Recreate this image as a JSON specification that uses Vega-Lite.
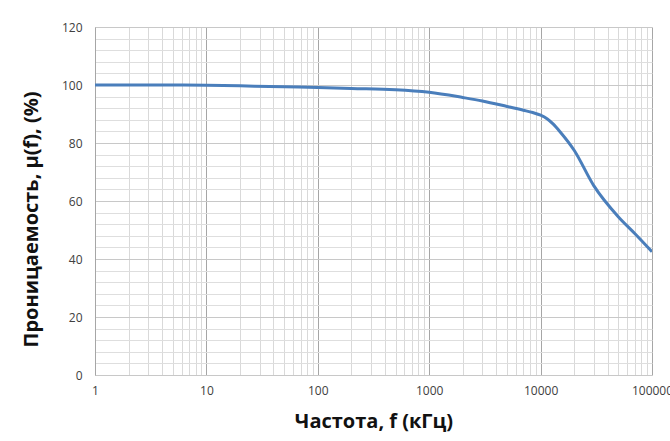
{
  "$schema": "https://vega.github.io/schema/vega-lite/v6.json",
  "width": 557,
  "height": 348,
  "autosize": {"type": "none"},
  "padding": {"left": 95, "top": 27, "right": 18, "bottom": 66},
  "background": "white",
  "config": {
    "view": {"stroke": null},
    "font": "Open Sans",
    "axis": {
      "labelFont": "Open Sans",
      "labelFontSize": 12,
      "labelColor": "#404040",
      "titleFont": "Open Sans",
      "titleFontWeight": "bold",
      "titleFontSize": 20,
      "titleColor": "#111111",
      "ticks": false
    }
  },
  "data": {
    "values": [
      {"f": 1, "mu": 100.0},
      {"f": 2, "mu": 100.0},
      {"f": 5, "mu": 100.0},
      {"f": 10, "mu": 99.9},
      {"f": 20, "mu": 99.7},
      {"f": 50, "mu": 99.4},
      {"f": 100, "mu": 99.1},
      {"f": 200, "mu": 98.8},
      {"f": 500, "mu": 98.4},
      {"f": 1000, "mu": 97.5},
      {"f": 2000, "mu": 95.7},
      {"f": 3000, "mu": 94.5},
      {"f": 5000, "mu": 92.6},
      {"f": 7000, "mu": 91.3},
      {"f": 8500, "mu": 90.5},
      {"f": 10000, "mu": 89.6},
      {"f": 11500, "mu": 88.3},
      {"f": 13000, "mu": 86.5},
      {"f": 15000, "mu": 83.8},
      {"f": 20000, "mu": 77.5},
      {"f": 30000, "mu": 65.3},
      {"f": 50000, "mu": 54.5},
      {"f": 70000, "mu": 48.8},
      {"f": 100000, "mu": 42.5}
    ]
  },
  "mark": {
    "type": "line",
    "interpolate": "monotone",
    "color": "#4a7ebb",
    "strokeWidth": 3,
    "clip": true
  },
  "encoding": {
    "x": {
      "field": "f",
      "type": "quantitative",
      "scale": {"type": "log", "domain": [1, 100000], "nice": false},
      "axis": {
        "title": "Частота, f (кГц)",
        "titlePadding": 15,
        "labelPadding": 10,
        "format": "d",
        "values": [1, 2, 3, 4, 5, 6, 7, 8, 9, 10, 20, 30, 40, 50, 60, 70, 80, 90, 100, 200, 300, 400, 500, 600, 700, 800, 900, 1000, 2000, 3000, 4000, 5000, 6000, 7000, 8000, 9000, 10000, 20000, 30000, 40000, 50000, 60000, 70000, 80000, 90000, 100000],
        "labelExpr": "abs(log(datum.value) / LN10 - round(log(datum.value) / LN10)) < 0.000001 ? datum.label : ''",
        "labelOverlap": false,
        "labelFlush": false,
        "gridColor": {
          "condition": {"test": "abs(log(datum.value) / LN10 - round(log(datum.value) / LN10)) < 0.000001", "value": "#a6a6a6"},
          "value": "#d9d9d9"
        },
        "gridWidth": 1,
        "domain": false
      }
    },
    "y": {
      "field": "mu",
      "type": "quantitative",
      "scale": {"domain": [0, 120], "nice": false, "zero": true},
      "axis": {
        "title": "Проницаемость, µ(f), (%)",
        "titlePadding": 20,
        "titleY": 192,
        "labelPadding": 13,
        "values": [0, 4, 8, 12, 16, 20, 24, 28, 32, 36, 40, 44, 48, 52, 56, 60, 64, 68, 72, 76, 80, 84, 88, 92, 96, 100, 104, 108, 112, 116, 120],
        "labelExpr": "datum.value % 20 == 0 ? datum.label : ''",
        "labelOverlap": false,
        "gridColor": {
          "condition": {"test": "datum.value % 20 == 0", "value": "#c8c8c8"},
          "value": "#dedede"
        },
        "domain": true,
        "domainColor": "#a6a6a6"
      }
    }
  }
}
